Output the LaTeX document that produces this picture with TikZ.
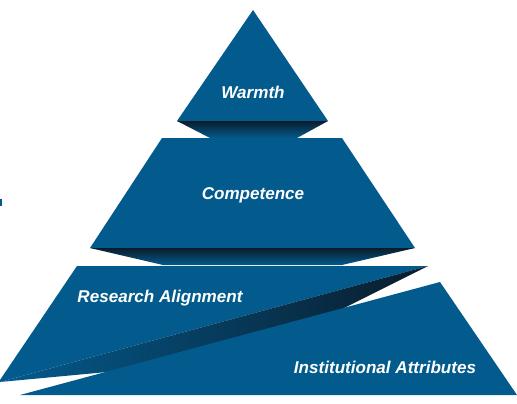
\documentclass[tikz,border=0pt]{standalone}
\usepackage{fontspec}
\setmainfont{Liberation Sans}
\usetikzlibrary{positioning}
\definecolor{pyrblue}{HTML}{035B8D}
\definecolor{pyrdark}{HTML}{0A1C2C}
\begin{document}
\begin{tikzpicture}[x=0.75pt, y=-0.75pt, slab/.style={fill=pyrblue}, band/.style={top color=pyrdark, bottom color=pyrblue}, lbl/.style={text=white, font=\fontsize{12.8}{15}\selectfont\bfseries\itshape}]
    \useasboundingbox (0,0) rectangle (517,403);
    \fill[slab] (253,10) -- (328,121) -- (177,121) -- cycle;
    \shade[band] (177,121) -- (328,121) -- (297,138) -- (210,138) -- cycle;
    \fill[slab] (162,138) -- (342,138) -- (415,248) -- (90,248) -- cycle;
    \shade[band] (90,248) -- (415,248) -- (342,265) -- (163,265) -- cycle;
    \fill[slab] (77,266) -- (428,266) -- (0,382) -- (0,380) -- cycle;
    \shade[left color=pyrblue, right color=pyrdark] (428,266) -- (300,330) -- (107,372) -- (0,382) -- cycle;
    \fill[slab] (440,282) -- (517,395) -- (20,395) -- cycle;
    \fill[slab] (0,199) rectangle (1.5,206);
    \node[lbl] (warmth) at (253,92) {Warmth};
    \node[lbl] (comp) at (253,195) {Competence};
    \node[lbl] (research) at (160,298) {Research Alignment};
    \node[lbl] (inst) at (385,367) {Institutional Attributes};
  \end{tikzpicture}
\end{document}
